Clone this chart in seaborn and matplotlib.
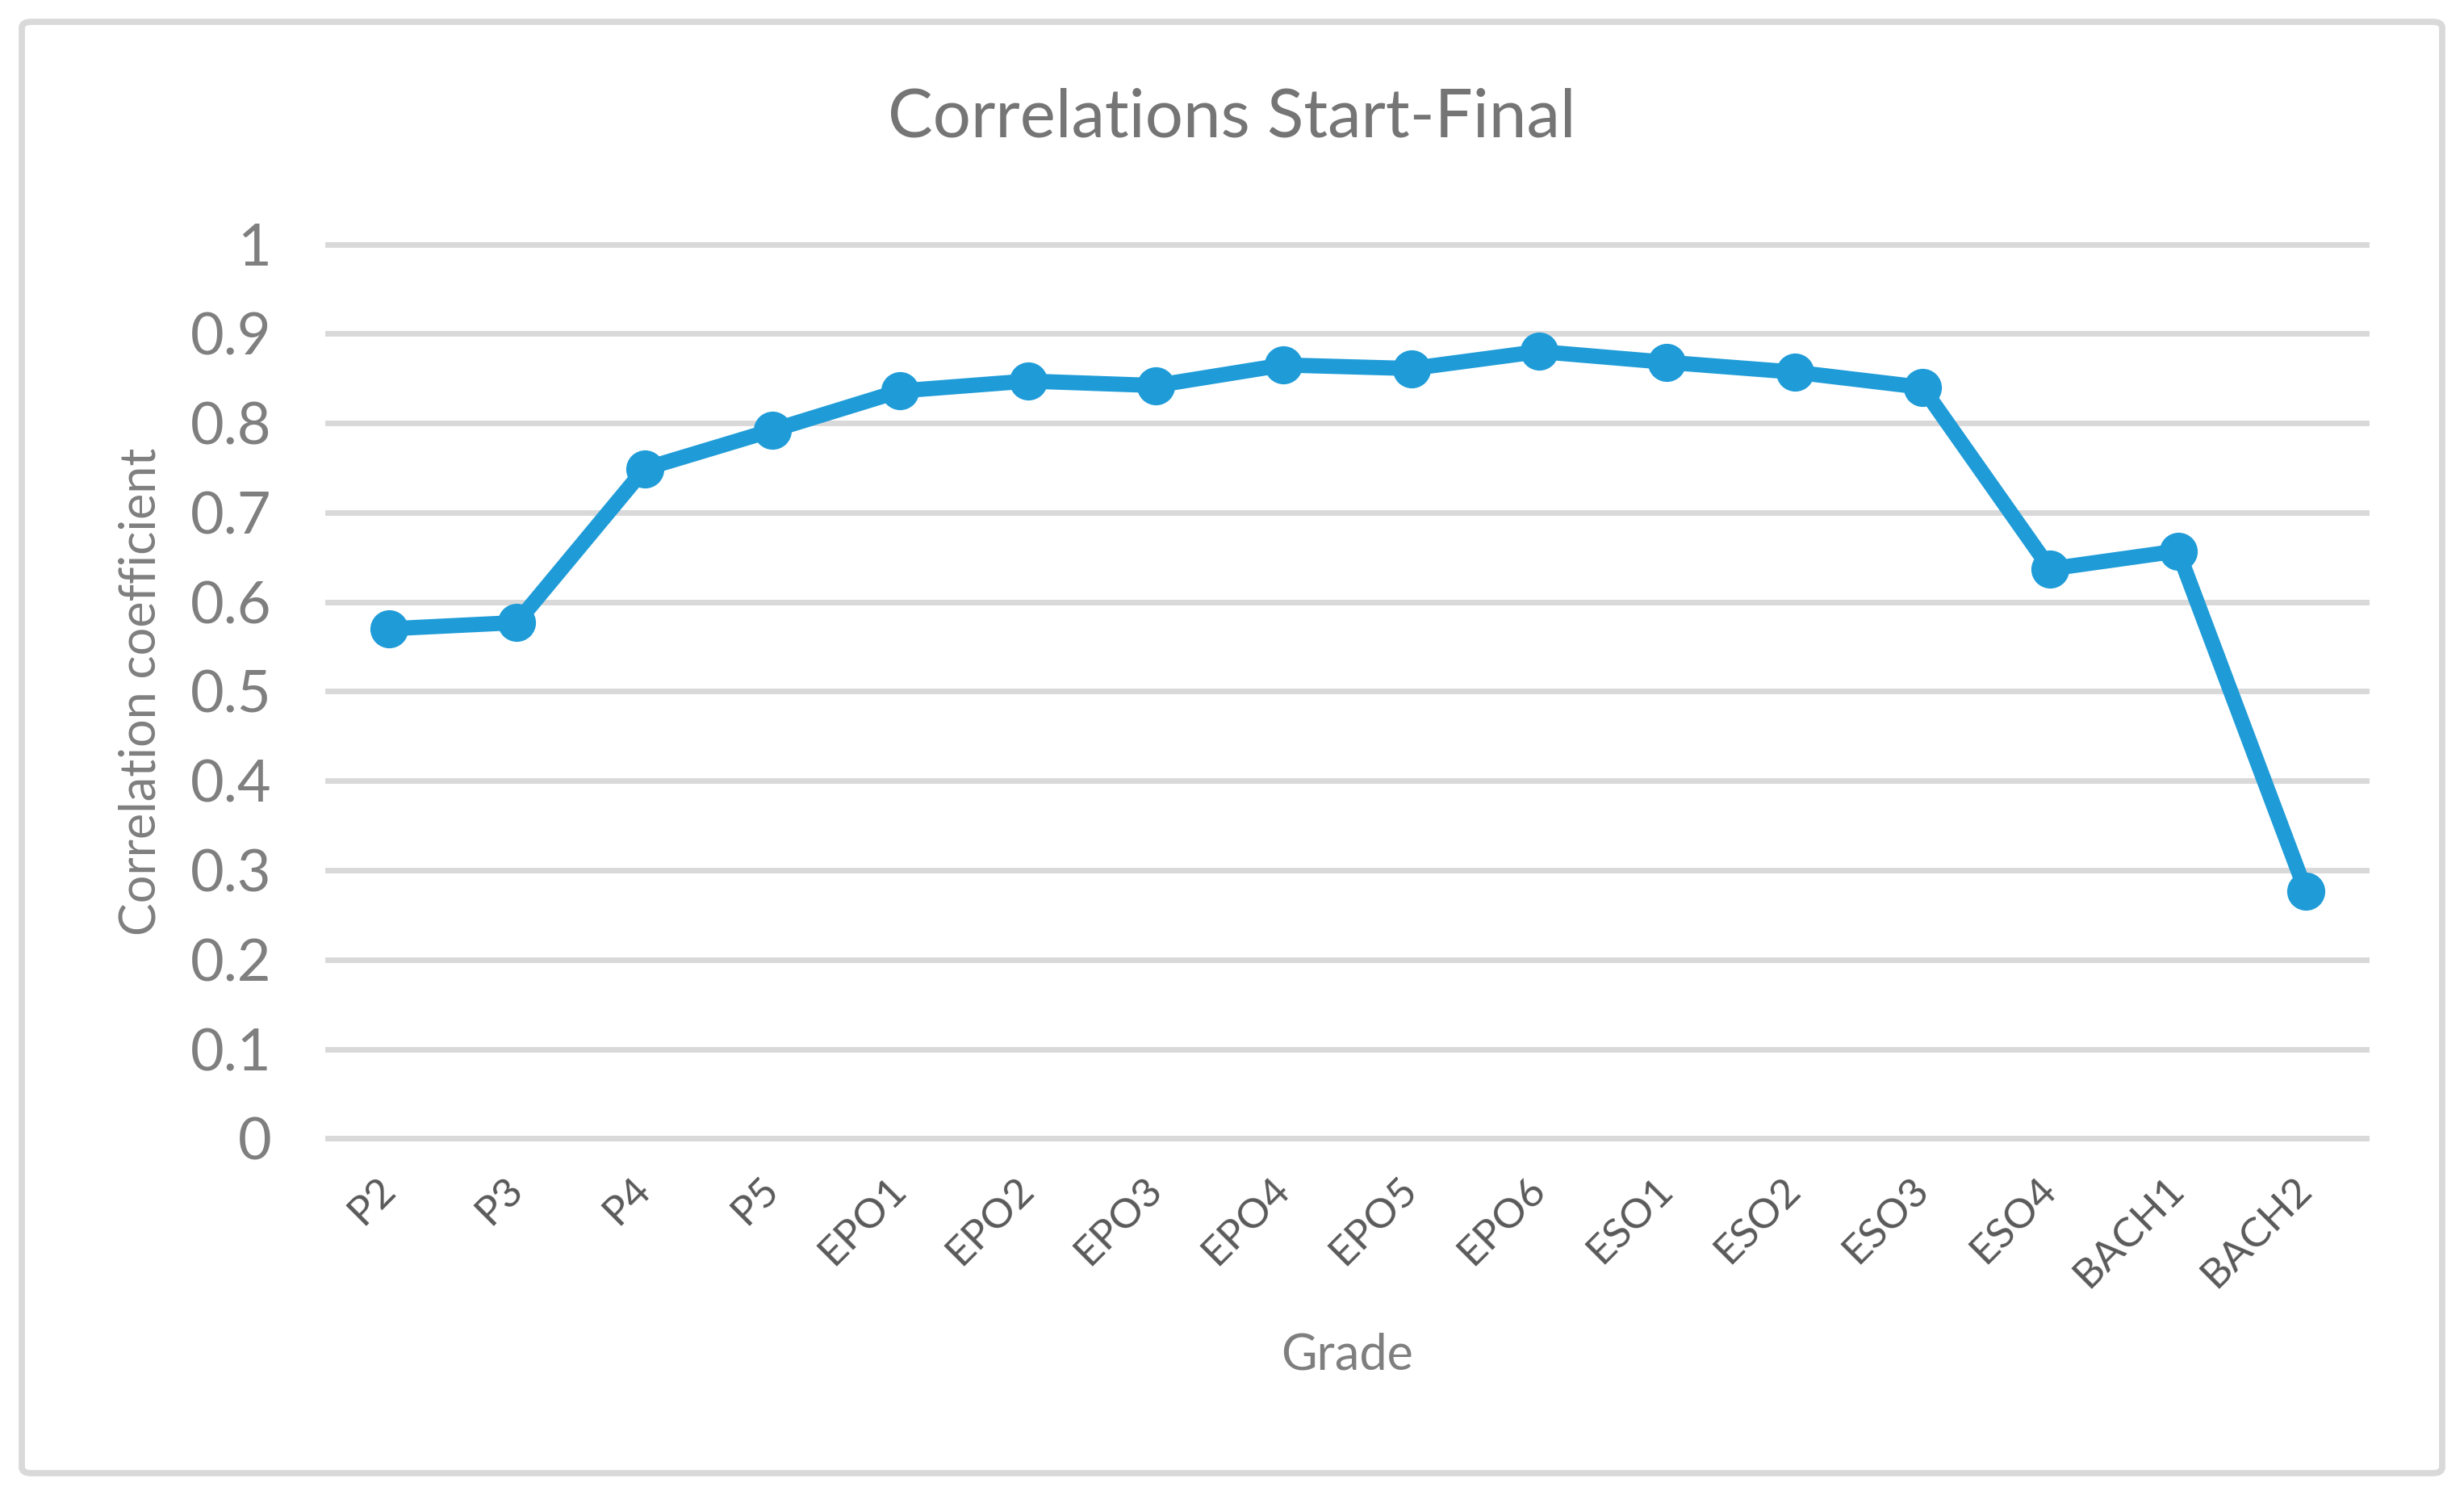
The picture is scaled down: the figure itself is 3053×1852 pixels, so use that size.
import matplotlib
matplotlib.use("Agg")
import matplotlib.pyplot as plt
import seaborn as sns
import pandas as pd
from matplotlib.patches import FancyBboxPatch

grades = ["P2", "P3", "P4", "P5", "EPO1", "EPO2", "EPO3", "EPO4", "EPO5", "EPO6",
          "ESO1", "ESO2", "ESO3", "ESO4", "BACH1", "BACH2"]
correlation = [0.570, 0.577, 0.749, 0.792, 0.836, 0.847, 0.842, 0.865, 0.861, 0.880,
               0.868, 0.857, 0.840, 0.637, 0.657, 0.277]
yticks = [0, 0.1, 0.2, 0.3, 0.4, 0.5, 0.6, 0.7, 0.8, 0.9, 1]
ytick_labels = ["0", "0.1", "0.2", "0.3", "0.4", "0.5", "0.6", "0.7", "0.8", "0.9", "1"]

sns.set_theme(style="white")
plt.rcParams['font.family'] = ['Lato', 'DejaVu Sans']

df = pd.DataFrame({"Grade": grades, "Correlation": correlation})
df["pos"] = range(len(grades))

W, H = 3053, 1852
fig = plt.figure(figsize=(W / 200, H / 200), dpi=200)
left, right, top, bottom = 403, 2936, 297, 1416
ax = fig.add_axes([left / W, 1 - bottom / H, (right - left) / W, (bottom - top) / H])

line_color = "#1F9CD8"
sns.lineplot(data=df, x="pos", y="Correlation", ax=ax, color=line_color,
             linewidth=6.8, marker="o", markersize=17, markeredgewidth=0,
             clip_on=False, zorder=3)

ax.set_xlim(-0.5, len(grades) - 0.5)
ax.set_ylim(-0.005, 1.005)
ax.set_yticks(yticks)
ax.set_yticklabels(ytick_labels, fontsize=26, color="#7F7F7F")
ax.set_xticks(range(len(grades)))
ax.set_xticklabels(grades, fontsize=18.5, color="#595959", rotation=45,
                   ha="right", va="center", rotation_mode="anchor")
ax.tick_params(axis="x", length=0, pad=18)
ax.tick_params(axis="y", length=0, pad=24)
for lab in ax.get_yticklabels():
    lab.set_ha("right")

ax.grid(axis="y", color="#D9D9D9", linewidth=2.5)
ax.grid(axis="x", visible=False)
for s in ax.spines.values():
    s.set_visible(False)

ax.set_xlabel("Grade", fontsize=22, color="#7F7F7F")
ax.xaxis.set_label_coords(0.5, (bottom - 1679) / (bottom - top))
ax.xaxis.label.set_va("center")
ax.set_ylabel("Correlation coefficient", fontsize=22, color="#7F7F7F")
ax.yaxis.set_label_coords((175 - left) / (right - left), 0.5)
ax.yaxis.label.set_va("center")
fig.text(0.5, 1 - 146 / H, "Correlations Start-Final",
         ha="center", va="center", fontsize=30, color="#757575")

border = FancyBboxPatch((27 / W, 27 / H), (W - 54) / W, (H - 54) / H,
                        boxstyle="round,pad=0,rounding_size=0.004",
                        transform=fig.transFigure, fill=False,
                        edgecolor="#D9D9D9", linewidth=2.8)
fig.patches.append(border)

fig.savefig("out.png", dpi=200, facecolor="white")
